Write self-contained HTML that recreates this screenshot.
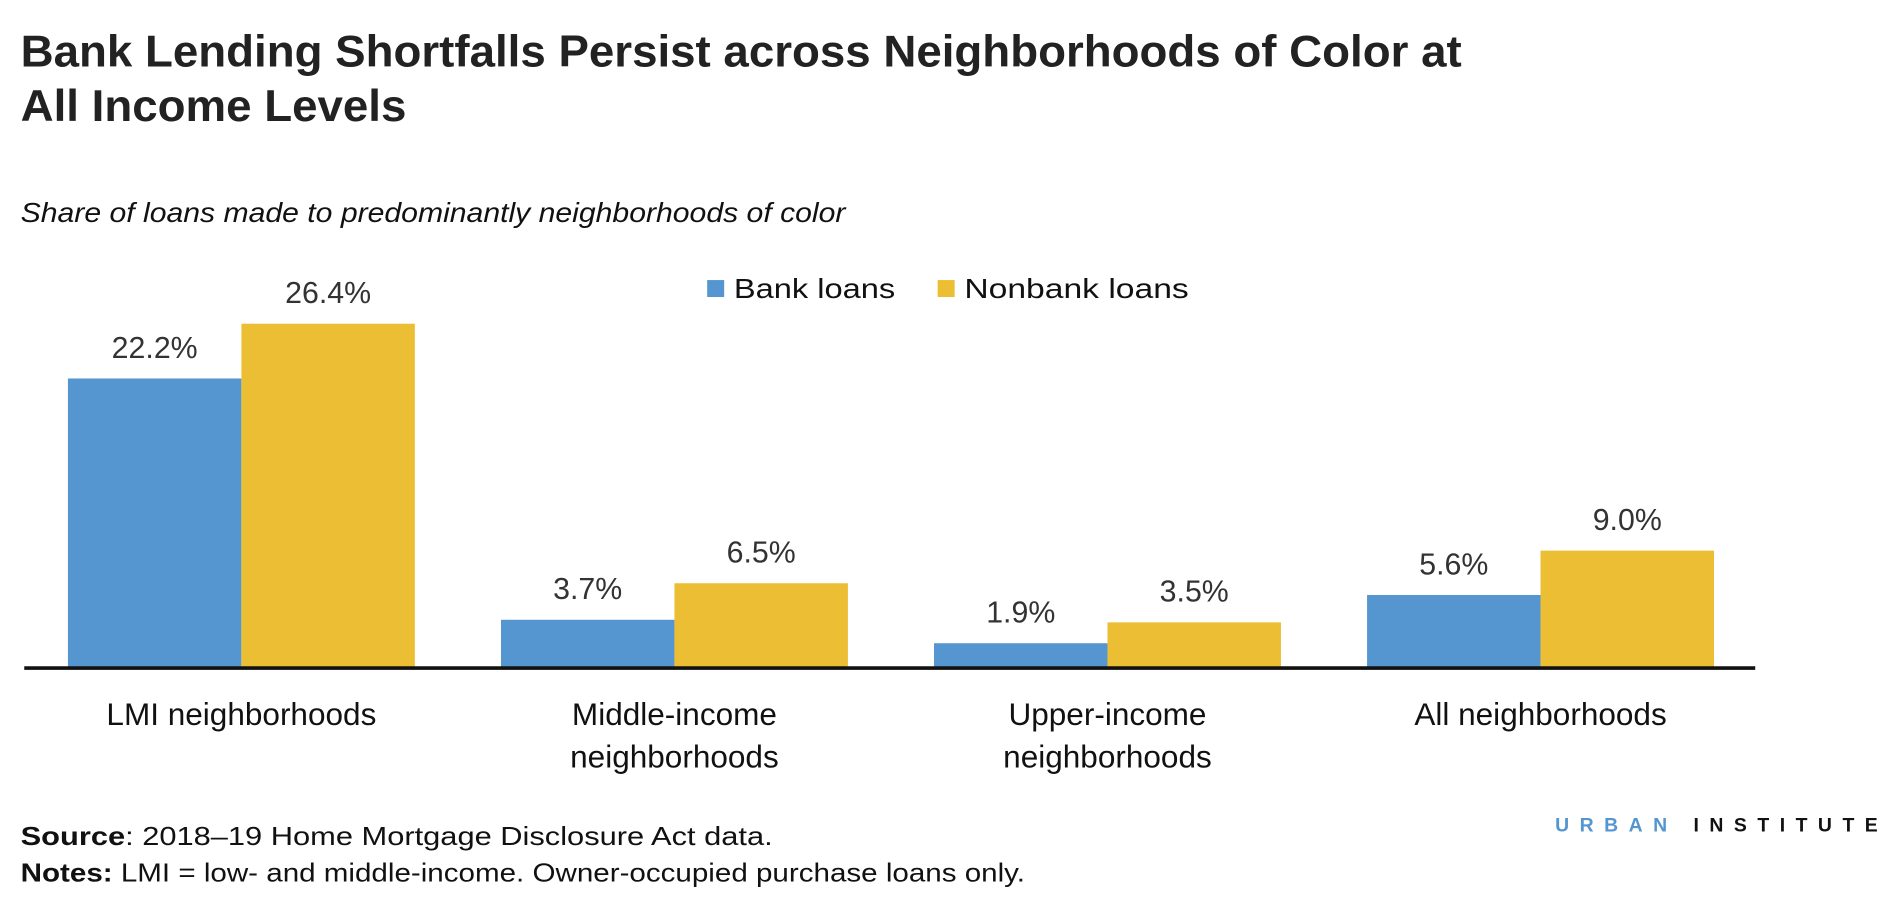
<!DOCTYPE html>
<html><head><meta charset="utf-8"><style>
html,body{margin:0;padding:0;background:#fff;width:1902px;height:902px;overflow:hidden}
svg{display:block;font-family:"Liberation Sans",sans-serif}
</style></head><body>
<svg id="chart" width="1902" height="902" viewBox="0 0 1568 744" preserveAspectRatio="none" xmlns="http://www.w3.org/2000/svg">
<text x="17" y="55" font-size="37" font-weight="bold" fill="#222" textLength="1188" lengthAdjust="spacingAndGlyphs">Bank Lending Shortfalls Persist across Neighborhoods of Color at</text>
<text x="17" y="100" font-size="37" font-weight="bold" fill="#222" textLength="318" lengthAdjust="spacingAndGlyphs">All Income Levels</text>
<text x="17" y="183" font-size="23" font-style="italic" fill="#111" textLength="680" lengthAdjust="spacingAndGlyphs">Share of loans made to predominantly neighborhoods of color</text>
<g>
<rect x="583" y="231" width="14" height="14" fill="#5596d0"/>
<text x="605" y="246" font-size="23" fill="#111" textLength="133" lengthAdjust="spacingAndGlyphs">Bank loans</text>
<rect x="773" y="231" width="14" height="14" fill="#ecbe34"/>
<text x="795" y="246" font-size="23" fill="#111" textLength="185" lengthAdjust="spacingAndGlyphs">Nonbank loans</text>
</g>
<g id="bars"></g>
<line x1="20" y1="551" x2="1447" y2="551" stroke="#111" stroke-width="3"/>
<text x="17" y="697" font-size="21" fill="#111" textLength="620" lengthAdjust="spacingAndGlyphs"><tspan font-weight="bold">Source</tspan>: 2018–19 Home Mortgage Disclosure Act data.</text>
<text x="17" y="727" font-size="21" fill="#111" textLength="828" lengthAdjust="spacingAndGlyphs"><tspan font-weight="bold">Notes:</tspan> LMI = low- and middle-income. Owner-occupied purchase loans only.</text>
<text x="1282" y="686" font-size="16" font-weight="bold" textLength="266" lengthAdjust="spacing"><tspan fill="#5596d0">URBAN</tspan><tspan fill="#111"> INSTITUTE</tspan></text>
</svg>
<script>
const categories = [["LMI neighborhoods"], ["Middle-income", "neighborhoods"], ["Upper-income", "neighborhoods"], ["All neighborhoods"]];
const bankValues = [22.2, 3.7, 1.9, 5.6];
const nonbankValues = [26.4, 6.5, 3.5, 9.0];
const valueLabelsBank = ["22.2%", "3.7%", "1.9%", "5.6%"];
const valueLabelsNonbank = ["26.4%", "6.5%", "3.5%", "9.0%"];

const NS = "http://www.w3.org/2000/svg";
const g = document.getElementById("bars");
const baseY = 551, pxPer = 284 / 26.4;
const x0 = 199, pitch = 357, bw = 143;
function yScale(v){ return baseY - v * pxPer; }
function xCenter(i){ return x0 + i * pitch; }
function mk(tag, attrs){ const e = document.createElementNS(NS, tag); for (const k in attrs) e.setAttribute(k, attrs[k]); g.appendChild(e); return e; }
categories.forEach((cat, i) => {
  const cx = xCenter(i);
  [[bankValues[i], valueLabelsBank[i], cx - bw, "#5596d0", "bank"], [nonbankValues[i], valueLabelsNonbank[i], cx, "#ecbe34", "nonbank"]].forEach(([v, lab, x, col, s]) => {
    const r = mk("rect", {x: x, y: yScale(v), width: bw, height: baseY - yScale(v), fill: col});
    
    
    const t = mk("text", {x: x + bw / 2, y: yScale(v) - 17, "text-anchor": "middle", "font-size": 25, fill: "#333"});
    t.textContent = lab;
    
    
  });
  cat.forEach((line, j) => {
    const t = mk("text", {x: cx, y: 598 + j * 35, "text-anchor": "middle", "font-size": 26, fill: "#111"});
    t.textContent = line;
    
    
  });
});
</script>
</body></html>
